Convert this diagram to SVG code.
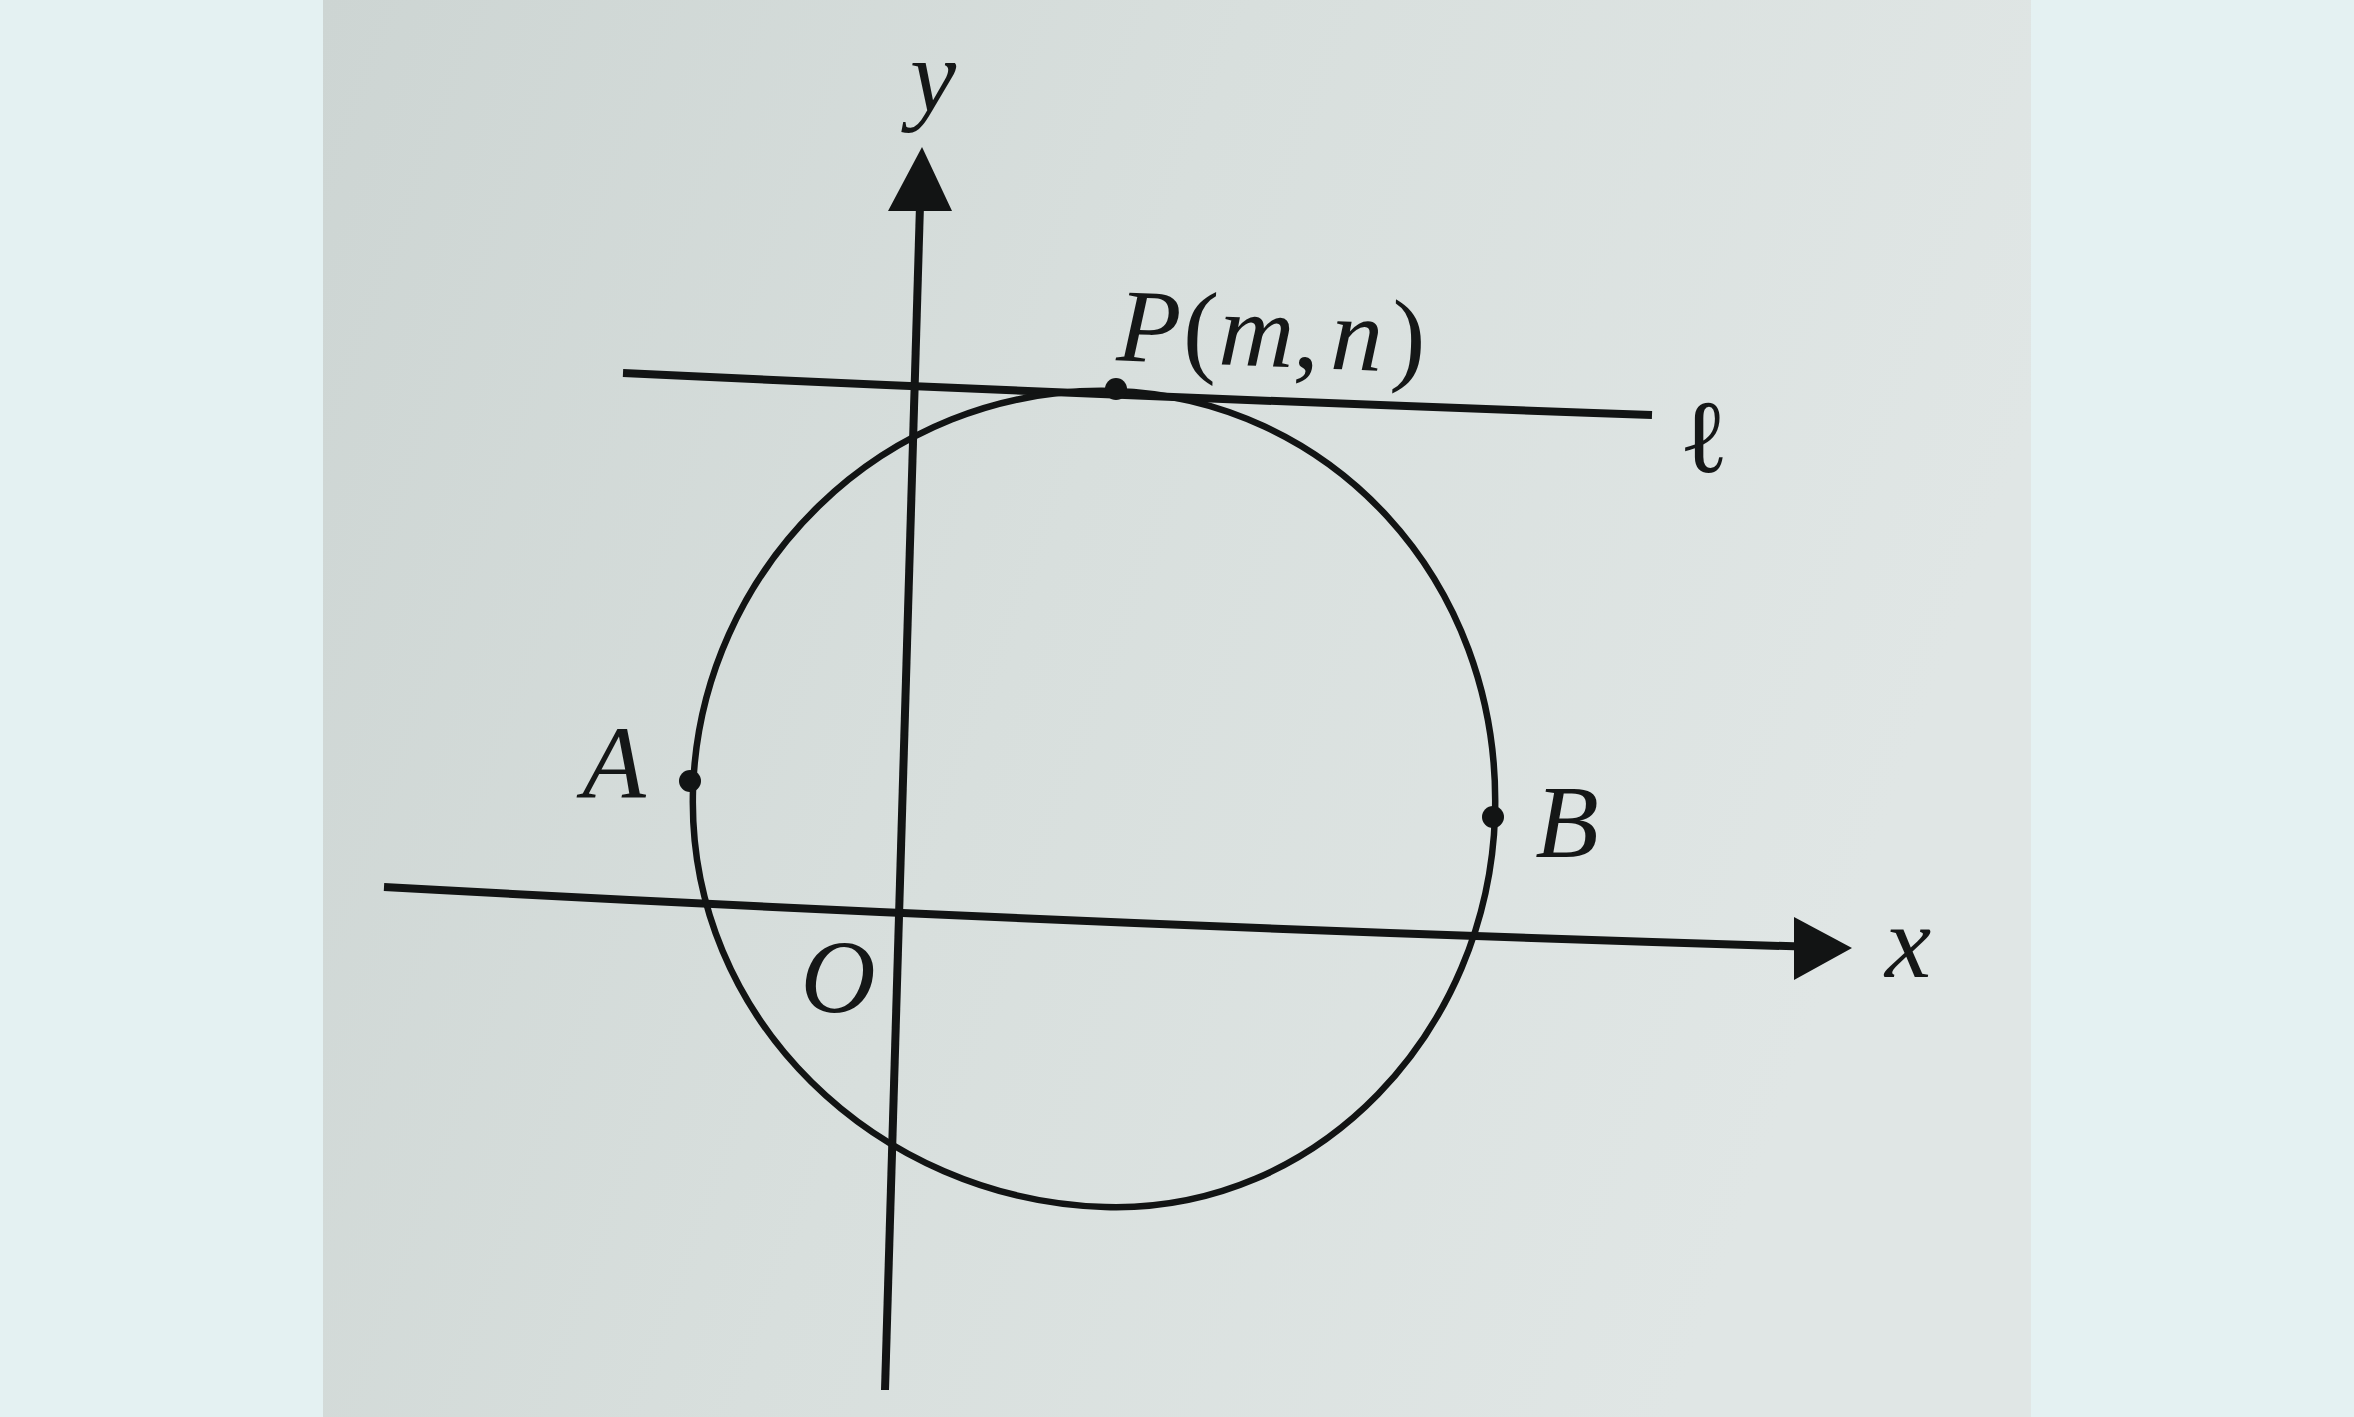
<svg xmlns="http://www.w3.org/2000/svg" width="2354" height="1417" viewBox="0 0 2354 1417">
  <defs>
    <linearGradient id="paper" x1="0" y1="0" x2="1" y2="0.3">
      <stop offset="0" stop-color="#cdd5d3"/>
      <stop offset="0.5" stop-color="#d8dfdd"/>
      <stop offset="1" stop-color="#e0e6e5"/>
    </linearGradient>
    <style>
      .ink { fill: none; stroke: #121414; stroke-linecap: butt; }
      .axis { stroke-width: 8; }
      .curve { stroke-width: 6.5; }
      .head, .dot { fill: #121414; stroke: none; }
      .lbl { font-family: "Liberation Serif", "Times New Roman", serif; font-size: 104px; fill: #151717; }
      .it { font-style: italic; }
      .up { font-style: normal; }
    </style>
  </defs>

  <rect x="0" y="0" width="2354" height="1417" fill="#e4f1f2"/>
  <rect x="323" y="0" width="1708" height="1417" fill="url(#paper)"/>

  <g id="connectors">
    <path id="x-axis" class="ink axis" d="M384,887 Q1097,926 1810,946.8"/>
    <polygon class="head" points="1794,917 1852,948 1794,980"/>
    <path id="y-axis" class="ink axis" d="M885,1390 Q905,797 920,205"/>
    <polygon class="head" points="888,211 922,147 952,211"/>
    <path id="line-l" class="ink axis" d="M623,373 Q1137,397 1652,415"/>
  </g>

  <g id="circle">
    <path class="ink curve" d="M1114,391 C1327.4,397.4 1502.1,577.6 1495,815 C1488.5,1030.6 1319.5,1213.4 1105,1207 C878.4,1200.2 686.1,1019.4 693,790 C699.6,570.6 882.4,384.1 1114,391 Z"/>
  </g>

  <g id="point-P">
    <circle class="dot" cx="1116" cy="389" r="11"/>
    <g transform="rotate(2.3 1112 360)">
      <text class="lbl" y="360"><tspan class="it" x="1116">P</tspan><tspan class="up" x="1182">(</tspan><tspan class="it" x="1218">m</tspan><tspan class="up" x="1293">,</tspan><tspan class="it" x="1330">n</tspan><tspan class="up" x="1390">)</tspan></text>
    </g>
  </g>

  <g id="point-A">
    <circle class="dot" cx="690" cy="781" r="11"/>
    <text class="lbl it" x="614" y="798" text-anchor="middle">A</text>
  </g>

  <g id="point-B">
    <circle class="dot" cx="1493" cy="817" r="11"/>
    <text class="lbl it" x="1567" y="857" text-anchor="middle">B</text>
  </g>

  <g id="label-O">
    <text class="lbl it" x="838" y="1012" text-anchor="middle">O</text>
  </g>

  <g id="label-x">
    <text class="lbl it" x="1908" y="977" text-anchor="middle">x</text>
  </g>

  <g id="label-y">
    <text class="lbl it" x="933" y="111" text-anchor="middle">y</text>
  </g>

  <g id="label-l">
    <text class="lbl up" x="1704" y="472" text-anchor="middle">ℓ</text>
  </g>
</svg>
